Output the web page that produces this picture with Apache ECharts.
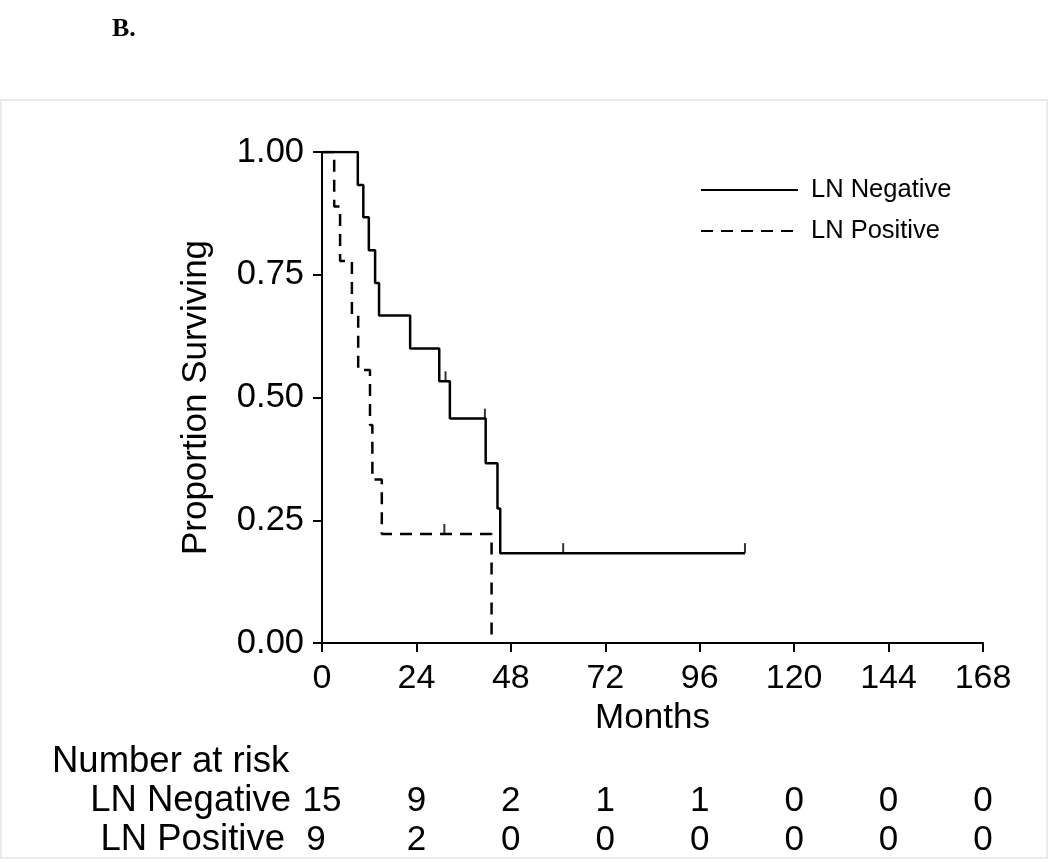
<!DOCTYPE html>
<html>
<head>
<meta charset="utf-8">
<script src="https://cdn.jsdelivr.net/npm/echarts@6/dist/echarts.min.js"></script>
<style>
html,body{margin:0;padding:0;background:#fff;}
#chart{width:1050px;height:862px;}
</style>
</head>
<body>
<div id="chart"></div>
<script>
// ---- data ----
const seriesNames = ['LN Negative', 'LN Positive'];
// Kaplan-Meier step points (months, survival)
const negTimes = [0, 9.1, 10.5, 11.9, 13.5, 14.5, 22.4, 29.8, 32.5, 41.6, 44.6, 45.3, 107.5];
const negSurv  = [1.0, 0.933, 0.867, 0.800, 0.733, 0.667, 0.600, 0.533, 0.457, 0.366, 0.274, 0.183, 0.183];
const negCensorTimes = [31.4, 41.4, 61.3, 107.5];
const negCensorSurv  = [0.533, 0.457, 0.183, 0.183];
const posTimes = [0, 3.1, 4.6, 7.6, 9.2, 12.2, 12.8, 15.2, 43.1];
const posSurv  = [1.0, 0.889, 0.778, 0.667, 0.556, 0.444, 0.333, 0.222, 0.0];
const posCensorTimes = [31.1];
const posCensorSurv  = [0.222];
// number at risk table
const riskTimes = [0, 24, 48, 72, 96, 120, 144, 168];
const riskNeg = [15, 9, 2, 1, 1, 0, 0, 0];
const riskPos = [9, 2, 0, 0, 0, 0, 0, 0];

const FONT = "'Liberation Sans', Arial, Helvetica, sans-serif";
const zip = (a, b) => a.map((v, i) => [v, b[i]]);

const chart = echarts.init(document.getElementById('chart'), null, {renderer: 'canvas'});
const option = {
  backgroundColor: '#ffffff',
  animation: false,
  grid: {left: 322, right: 67, top: 152, bottom: 219, containLabel: false},
  legend: {
    data: seriesNames,
    orient: 'vertical',
    left: 695, top: 170,
    itemWidth: 97, itemHeight: 14, itemGap: 11,
    itemStyle: {opacity: 0},
    textStyle: {fontFamily: FONT, fontSize: 25.5, color: '#000', lineHeight: 30, padding: [0, 0, 0, 8]},
    selectedMode: false
  },
  xAxis: {
    type: 'value', min: 0, max: 168, interval: 24,
    name: 'Months', nameLocation: 'middle', nameGap: 55,
    nameTextStyle: {fontFamily: FONT, fontSize: 35, color: '#000'},
    axisLine: {onZero: false, lineStyle: {color: '#000', width: 2}},
    axisTick: {show: true, length: 9, lineStyle: {color: '#000', width: 2}},
    axisLabel: {fontFamily: FONT, fontSize: 34, color: '#000', margin: 19},
    splitLine: {show: false}
  },
  yAxis: {
    type: 'value', min: 0, max: 1, interval: 0.25,
    name: 'Proportion Surviving', nameLocation: 'middle', nameGap: 108,
    nameTextStyle: {fontFamily: FONT, fontSize: 35, color: '#000'},
    axisLine: {onZero: false, lineStyle: {color: '#000', width: 2}},
    axisTick: {show: true, length: 9, lineStyle: {color: '#000', width: 2}},
    axisLabel: {fontFamily: FONT, fontSize: 34.5, color: '#000', margin: 18,
      formatter: v => v.toFixed(2)},
    splitLine: {show: false}
  },
  series: [
    {name: seriesNames[0], type: 'line', step: 'end', data: zip(negTimes, negSurv),
     symbol: 'none', showSymbol: false, z: 3,
     lineStyle: {color: '#000', width: 2.5, type: 'solid'}, itemStyle: {color: '#000'}},
    {name: seriesNames[1], type: 'line', step: 'end', data: zip(posTimes, posSurv),
     symbol: 'none', showSymbol: false, z: 2,
     lineStyle: {color: '#000', width: 2.5, type: [12, 8]}, itemStyle: {color: '#000'}},
    {name: 'negCensor', type: 'scatter', data: zip(negCensorTimes, negCensorSurv),
     symbol: 'rect', symbolSize: [2, 10], symbolOffset: [0, -5], itemStyle: {color: '#000'}, z: 4},
    {name: 'posCensor', type: 'scatter', data: zip(posCensorTimes, posCensorSurv),
     symbol: 'rect', symbolSize: [2, 10], symbolOffset: [0, -5], itemStyle: {color: '#000'}, z: 4}
  ]
};
chart.setOption(option);

// graphics: frame, panel label and number-at-risk table, positioned on the x scale
const txt = (text, x, y, align, size, extra) => ({
  type: 'text', x: x, y: y, silent: true,
  style: Object.assign({text: text, fontFamily: FONT, fontSize: size, fill: '#000',
    textAlign: align, textVerticalAlign: 'middle'}, extra || {})
});
const g = [];
g.push({type: 'rect', shape: {x: 1, y: 100, width: 1046, height: 758},
  style: {fill: 'none', stroke: '#ebebeb', lineWidth: 2}, silent: true, z: -1});
g.push(txt('B.', 112, 29, 'left', 26, {fontFamily: "'Liberation Serif', 'Times New Roman', serif", fontWeight: 'bold'}));
g.push(txt('Number at risk', 52, 762, 'left', 36.5));
g.push(txt(seriesNames[0], 291, 801, 'right', 36.5));
g.push(txt(seriesNames[1], 285, 840, 'right', 36.5));
riskTimes.forEach((t, i) => {
  const px = chart.convertToPixel({xAxisIndex: 0}, t);
  g.push(txt(String(riskNeg[i]), px, 801, 'center', 35));
  g.push(txt(String(riskPos[i]), i === 0 ? px - 6 : px, 840, 'center', 35));
});
chart.setOption({graphic: g});
</script>
</body>
</html>
